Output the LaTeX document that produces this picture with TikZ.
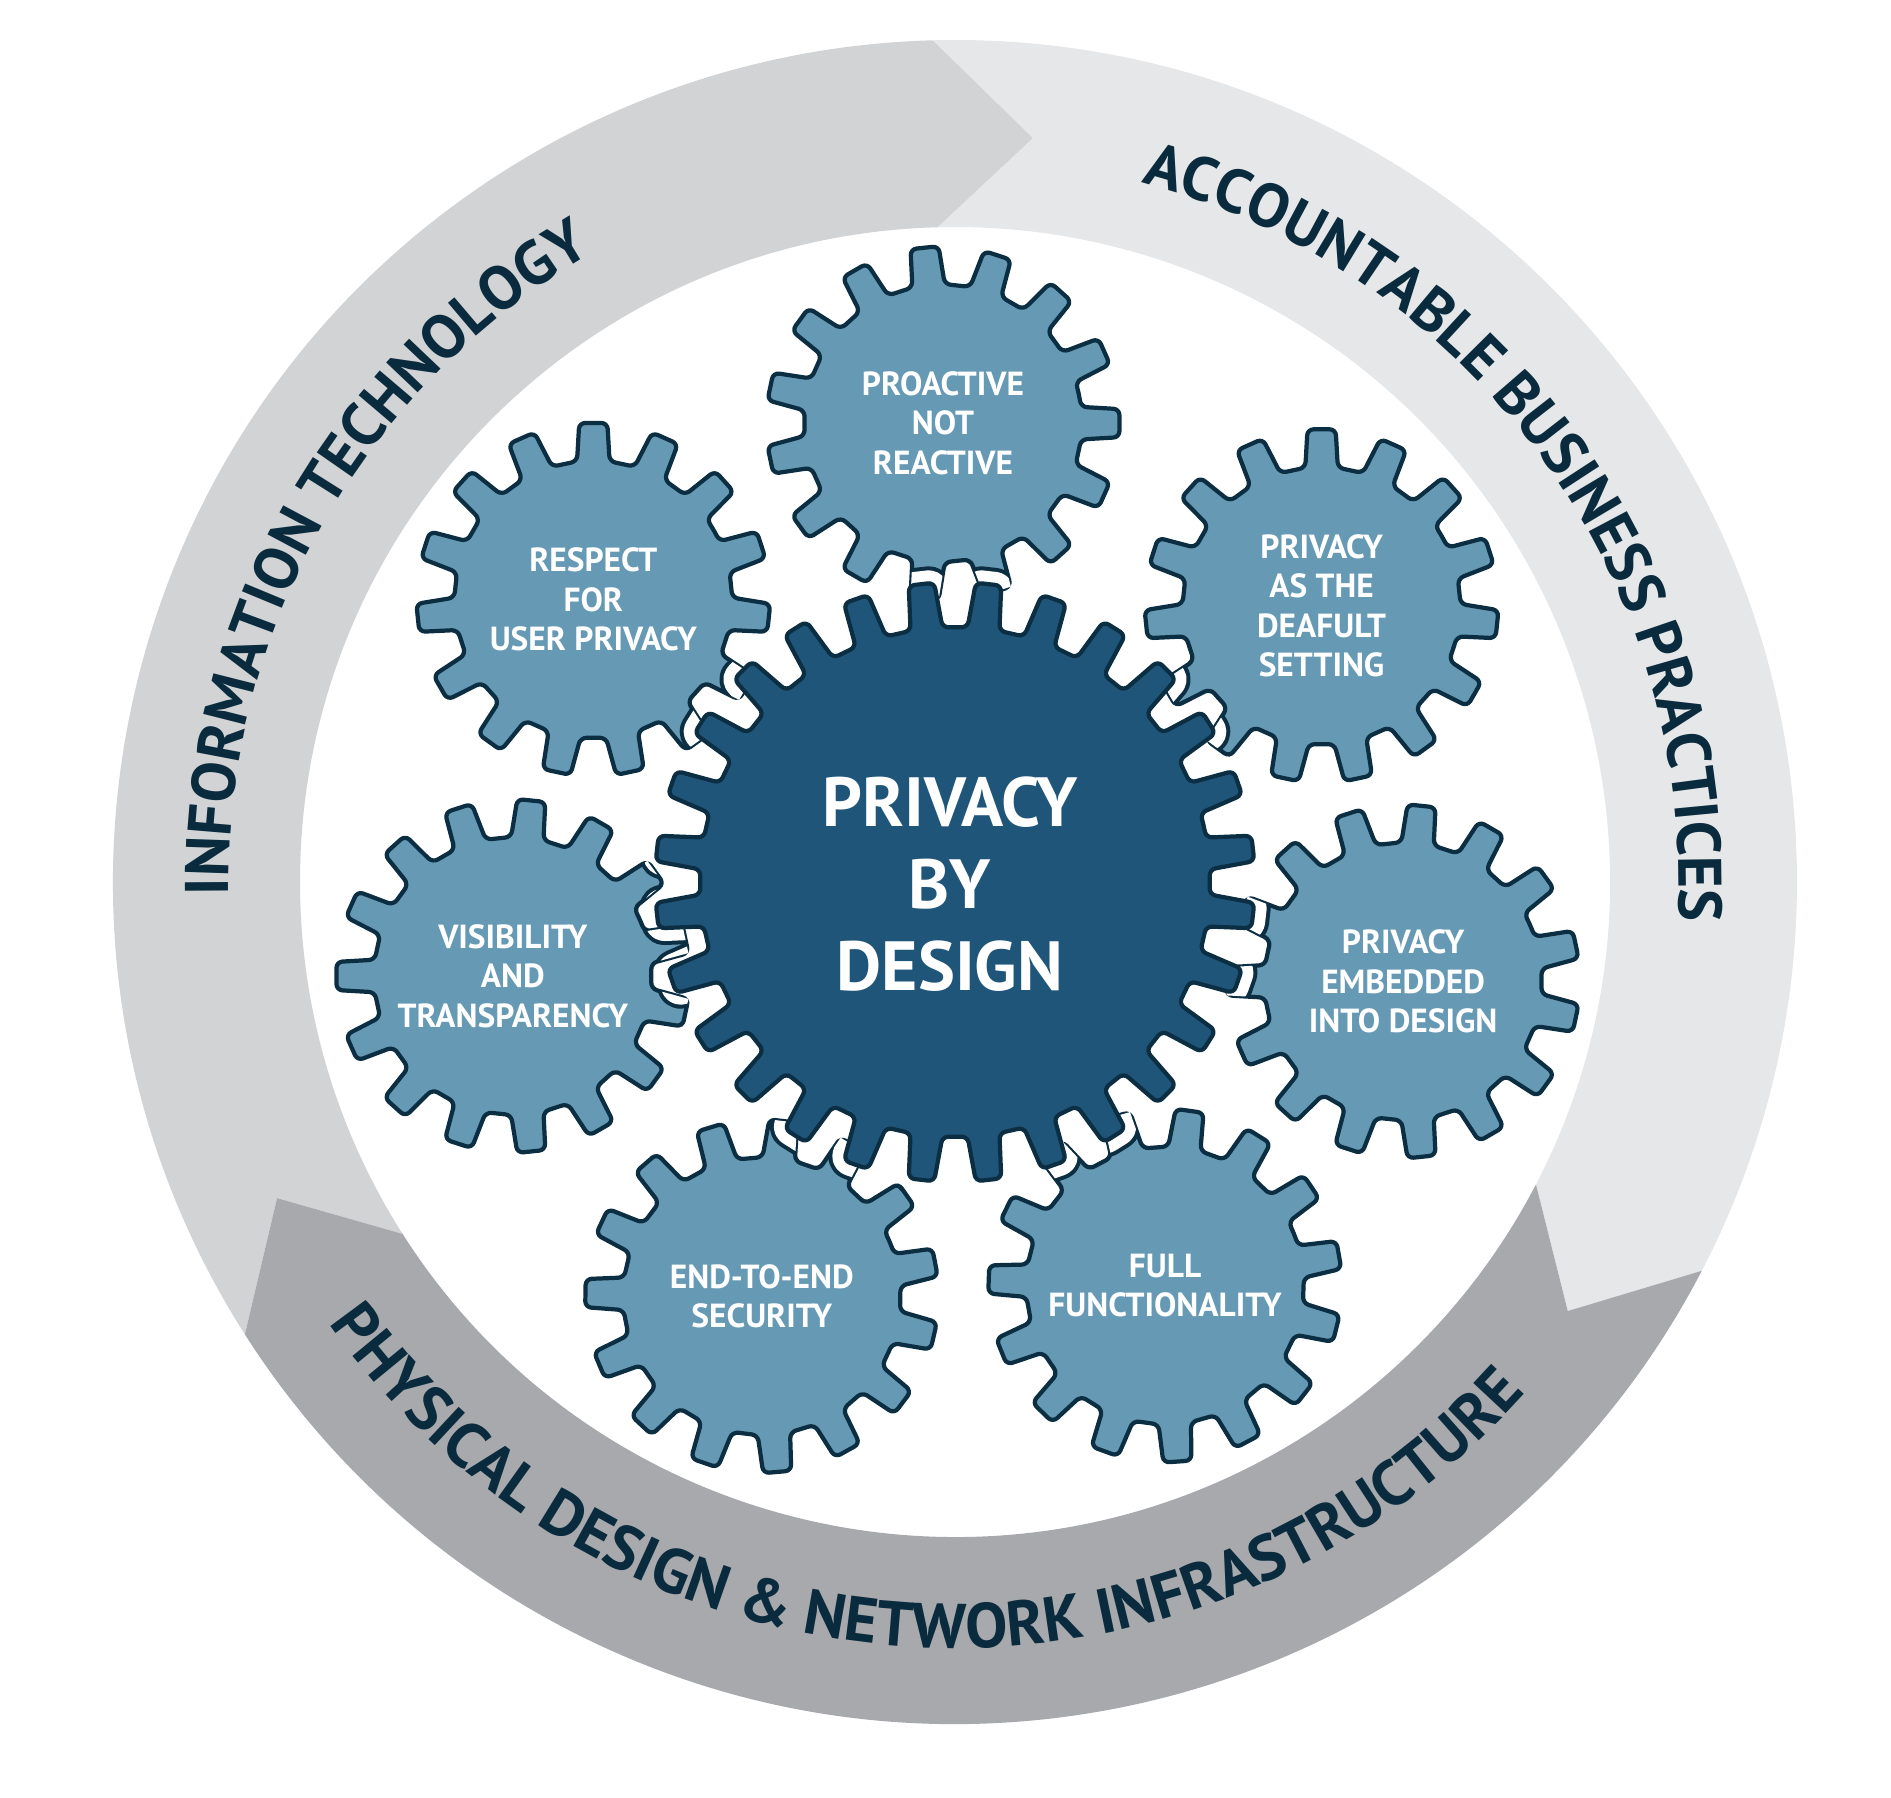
\documentclass[tikz,border=0pt]{standalone}
\usepackage{fontspec}
\setmainfont{PT Sans}
\usetikzlibrary{decorations.text}

\definecolor{ringlight}{HTML}{E6E7E8}
\definecolor{ringmid}{HTML}{D1D3D4}
\definecolor{ringdark}{HTML}{A7A9AC}
\definecolor{ink}{HTML}{0A2B3E}
\definecolor{cogblue}{HTML}{6699B4}
\definecolor{hubblue}{HTML}{20557A}
\definecolor{cogline}{HTML}{0B2E42}

% #1 centre, #2 teeth, #3 tip radius, #4 root radius, #5 phase
\newcommand{\cogpath}[5]{([shift={#1}]#5+180/#2:#4)
  \foreach \k [evaluate=\k as \aa using #5+(\k-0.28)*360/#2,
               evaluate=\k as \ab using #5+(\k-0.19)*360/#2,
               evaluate=\k as \ac using #5+(\k+0.19)*360/#2,
               evaluate=\k as \ad using #5+(\k+0.28)*360/#2] in {1,...,#2}{
    -- ([shift={#1}]\aa:#4) -- ([shift={#1}]\ab:#3)
    -- ([shift={#1}]\ac:#3) -- ([shift={#1}]\ad:#4)
  } -- cycle}
% ring band from #1 to #2 (clockwise), arrow head at #2
\newcommand{\ringarrow}[3]{\fill[#3] (#1:842) arc[start angle=#1, end angle=#2, radius=842]
  -- (#2-7.5:748) -- (#2:655) arc[start angle=#2, end angle=#1, radius=655]
  -- (#1-7.5:748) -- cycle;}
\newcommand{\ringfont}{\color{ink}\bfseries\fontsize{17.5}{20}\selectfont}
\newcommand{\ringfontwide}{\color{ink}\bfseries\fontsize{18}{20}\selectfont}

\begin{document}
\begin{tikzpicture}[
    x=0.01cm, y=0.01cm,
    cog/.style={fill=cogblue, draw=cogline, line width=1.2pt, rounded corners=1.7pt, line join=round},
    hub/.style={cog, fill=hubblue},
    cogtext/.style={text=white, font=\bfseries\fontsize{9.5}{11.2}\selectfont, align=center},
    hubtext/.style={text=white, font=\bfseries\fontsize{19.8}{23.3}\selectfont, align=center},
    ringtext/.style={decorate, decoration={text along path, text align=center, text={#1}}},
]
    \useasboundingbox (-955,-915) rectangle (936,882);

    % outer ring
    \ringarrow{212.5}{91.5}{ringmid}
    \ringarrow{91.5}{-27.5}{ringlight}
    \ringarrow{-27.5}{-147.5}{ringdark}

    \path[ringtext={|\ringfont|INFORMATION TECHNOLOGY}] (195.5:726) arc[start angle=195.5, end angle=105.5, radius=726];
    \path[ringtext={|\ringfont|ACCOUNTABLE BUSINESS PRACTICES}] (86:724) arc[start angle=86, end angle=-14, radius=724];
    \path[ringtext={|\ringfontwide|PHYSICAL DESIGN {\&} NETWORK INFRASTRUCTURE}] (206.7:766) arc[start angle=206.7, end angle=326.7, radius=766];

    % small cogs
    \filldraw[cog] \cogpath{(91.5:459)}{15}{177}{139}{0};
    \filldraw[cog] \cogpath{(142:459)}{15}{177}{139}{18};
    \filldraw[cog] \cogpath{(37:459)}{15}{177}{139}{18};
    \filldraw[cog] \cogpath{(-168:452)}{15}{177}{139}{12};
    \filldraw[cog] \cogpath{(-12.5:459)}{15}{177}{139}{12};
    \filldraw[cog] \cogpath{(-115:457)}{15}{177}{139}{11};
    \filldraw[cog] \cogpath{(-62.5:455)}{15}{177}{139}{10};

    \node[cogtext] (proactive) at (91.5:459) {PROACTIVE\\NOT\\REACTIVE};
    \node[cogtext] (respect) at (142:459) {RESPECT\\FOR\\USER PRIVACY};
    \node[cogtext] (default) at (37:459) {PRIVACY\\AS THE\\DEAFULT\\SETTING};
    \node[cogtext] (visibility) at (-168:452) {VISIBILITY\\AND\\TRANSPARENCY};
    \node[cogtext] (embedded) at (-12.5:459) {PRIVACY\\EMBEDDED\\INTO DESIGN};
    \node[cogtext] (security) at (-115:457) {END-TO-END\\SECURITY};
    \node[cogtext] (functionality) at (-62.5:455) {FULL\\FUNCTIONALITY};

    % white gap round the hub where it cuts the small cogs
    \begin{scope}
        \clip \cogpath{(91.5:459)}{15}{177}{139}{0} \cogpath{(142:459)}{15}{177}{139}{18}
              \cogpath{(37:459)}{15}{177}{139}{18} \cogpath{(-168:452)}{15}{177}{139}{12}
              \cogpath{(-12.5:459)}{15}{177}{139}{12} \cogpath{(-115:457)}{15}{177}{139}{11}
              \cogpath{(-62.5:455)}{15}{177}{139}{10};
        \draw[cogline, line width=0.34cm, line join=round, rounded corners=1.7pt] \cogpath{(0,0)}{28}{300}{255}{6.43};
        \draw[white, line width=0.26cm, line join=round, rounded corners=1.7pt] \cogpath{(0,0)}{28}{300}{255}{6.43};
    \end{scope}

    % hub
    \filldraw[hub] \cogpath{(0,0)}{28}{300}{255}{6.43};
    \node[hubtext] (pbd) at (-5,-2) {PRIVACY\\BY\\DESIGN};
\end{tikzpicture}
\end{document}
